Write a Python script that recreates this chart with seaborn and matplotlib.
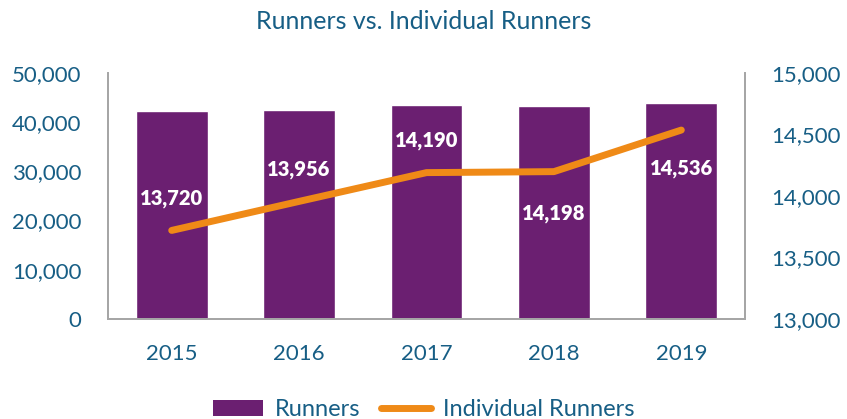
import numpy as np
import pandas as pd
import matplotlib
matplotlib.use('Agg')
import matplotlib.pyplot as plt
import seaborn as sns
from matplotlib.patches import Patch
from matplotlib.lines import Line2D

# Chart data
years = ['2015', '2016', '2017', '2018', '2019']
runners = [42250, 42450, 43450, 43350, 43900]
individual_runners = [13720, 13956, 14190, 14198, 14536]
label_offsets = [23, 23, 23, -30, -28]   # points above (+) / below (-) the line

left_ticks = [0, 10000, 20000, 30000, 40000, 50000]
right_ticks = [13000, 13500, 14000, 14500, 15000]

purple = '#6B1F71'
orange = '#EF8A17'
text_col = '#175E85'
spine_col = '#A6A6A6'

sns.set_style('white')
plt.rcParams['font.family'] = ['Lato', 'DejaVu Sans']

df = pd.DataFrame({'Year': years, 'Runners': runners,
                   'Individual': individual_runners, 'pos': np.arange(len(years))})

fig = plt.figure(figsize=(8.47, 4.19), dpi=100)
ax = fig.add_axes([0.1275, 0.2387, 0.7521, 0.5871])

sns.barplot(data=df, x='Year', y='Runners', color=purple, saturation=1,
            width=0.565, ax=ax)
ax.set_ylim(0, 50000)
ax.set_yticks(left_ticks)
ax.set_yticklabels([f'{v:,}' for v in left_ticks])
ax.set_xlabel('')
ax.set_ylabel('')

ax2 = ax.twinx()
sns.lineplot(data=df, x='pos', y='Individual', color=orange, linewidth=5,
             solid_capstyle='round', ax=ax2)
ax2.set_ylim(13000, 15000)
ax2.set_yticks(right_ticks)
ax2.set_yticklabels([f'{v:,}' for v in right_ticks])
ax2.set_xlabel('')
ax2.set_ylabel('')
ax.set_xlim(-0.5, len(years) - 0.5)

for i, v in enumerate(individual_runners):
    ax2.annotate(f'{v:,}', (i, v), xytext=(0, label_offsets[i]),
                 textcoords='offset points', ha='center', va='center',
                 color='white', fontsize=14.5, fontweight='heavy')

for a in (ax, ax2):
    a.tick_params(length=0, labelsize=16, labelcolor=text_col)
    a.spines['top'].set_visible(False)
    for s in ('left', 'right', 'bottom'):
        a.spines[s].set_color(spine_col)
        a.spines[s].set_linewidth(1.3)
ax.tick_params(axis='y', pad=19)
ax.tick_params(axis='x', pad=18)
ax2.tick_params(axis='y', pad=19)

fig.suptitle('Runners vs. Individual Runners', y=0.975, fontsize=18, color=text_col)

handles = [Patch(facecolor=purple, edgecolor='none'),
           Line2D([0], [0], color=orange, linewidth=5, solid_capstyle='round')]
fig.legend(handles, ['Runners', 'Individual Runners'], loc='center',
           bbox_to_anchor=(0.5, 0.022), ncol=2, frameon=False, fontsize=17,
           labelcolor=text_col, handlelength=2.1, handleheight=0.7,
           handletextpad=0.5, columnspacing=0.9)

fig.savefig('out.png', dpi=100)
